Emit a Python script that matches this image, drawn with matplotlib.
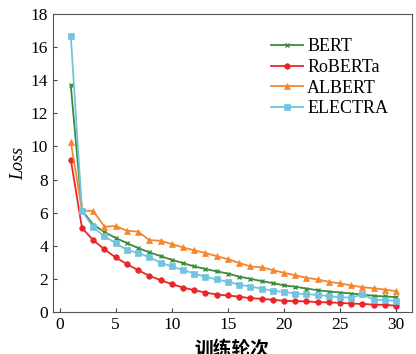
import matplotlib
matplotlib.use("Agg")
import matplotlib.pyplot as plt

epochs = list(range(1, 31))
bert = [13.7, 6.15, 5.27, 4.83, 4.47, 4.16, 3.86, 3.60, 3.37, 3.15,
        2.95, 2.75, 2.59, 2.45, 2.32, 2.13, 2.00, 1.86, 1.74, 1.60,
        1.52, 1.41, 1.31, 1.23, 1.17, 1.11, 1.05, 0.97, 0.93, 0.89]
roberta = [9.2, 5.07, 4.34, 3.78, 3.29, 2.89, 2.52, 2.18, 1.92, 1.68,
           1.47, 1.31, 1.17, 1.05, 0.99, 0.92, 0.83, 0.79, 0.73, 0.67,
           0.65, 0.63, 0.59, 0.57, 0.55, 0.50, 0.48, 0.44, 0.42, 0.38]
albert = [10.3, 6.12, 6.10, 5.15, 5.19, 4.91, 4.85, 4.34, 4.30, 4.10,
          3.90, 3.72, 3.56, 3.37, 3.19, 2.96, 2.75, 2.69, 2.53, 2.36,
          2.22, 2.06, 1.96, 1.82, 1.72, 1.60, 1.49, 1.43, 1.35, 1.25]
electra = [16.7, 6.10, 5.11, 4.56, 4.16, 3.74, 3.56, 3.31, 2.97, 2.75,
           2.53, 2.32, 2.12, 1.96, 1.82, 1.65, 1.53, 1.41, 1.27, 1.21,
           1.11, 1.07, 1.03, 0.95, 0.89, 0.85, 1.07, 0.73, 0.71, 0.67]

series = [
    ("BERT", bert, "#3b8b3b", "x"),
    ("RoBERTa", roberta, "#e8262b", "o"),
    ("ALBERT", albert, "#f5862e", "^"),
    ("ELECTRA", electra, "#72c3e0", "s"),
]

plt.rcParams["font.family"] = ["Liberation Serif", "Noto Sans CJK SC"]

fig = plt.figure(figsize=(4.16, 3.54), dpi=100)
ax = fig.add_axes([0.127, 0.119, 0.863, 0.841])

for name, vals, col, mk in series:
    ax.plot(epochs, vals, color=col, marker=mk, markersize=4 if mk != "x" else 3.5,
            markeredgewidth=1 if mk == "x" else 0.5, lw=1.3, label=name)

ax.set_xlim(-0.6, 31.4)
ax.set_ylim(0, 18)
ax.set_xticks(range(0, 31, 5))
ax.set_yticks(range(0, 19, 2))
ax.tick_params(direction="in", labelsize=12.5, length=3, color="#444444")
for s in ax.spines.values():
    s.set_color("#555555")

ax.set_ylabel("Loss", fontsize=13, style="italic", labelpad=2)
ax.set_xlabel("训练轮次", fontsize=13.5, family=["Noto Sans CJK SC"], fontweight="bold", labelpad=5)

ax.legend(loc="upper right", frameon=False, fontsize=13, handlelength=1.8,
          handletextpad=0.2, labelspacing=0.2, borderaxespad=0.3,
          bbox_to_anchor=(0.969, 0.961))

fig.savefig("out.png", dpi=100)
